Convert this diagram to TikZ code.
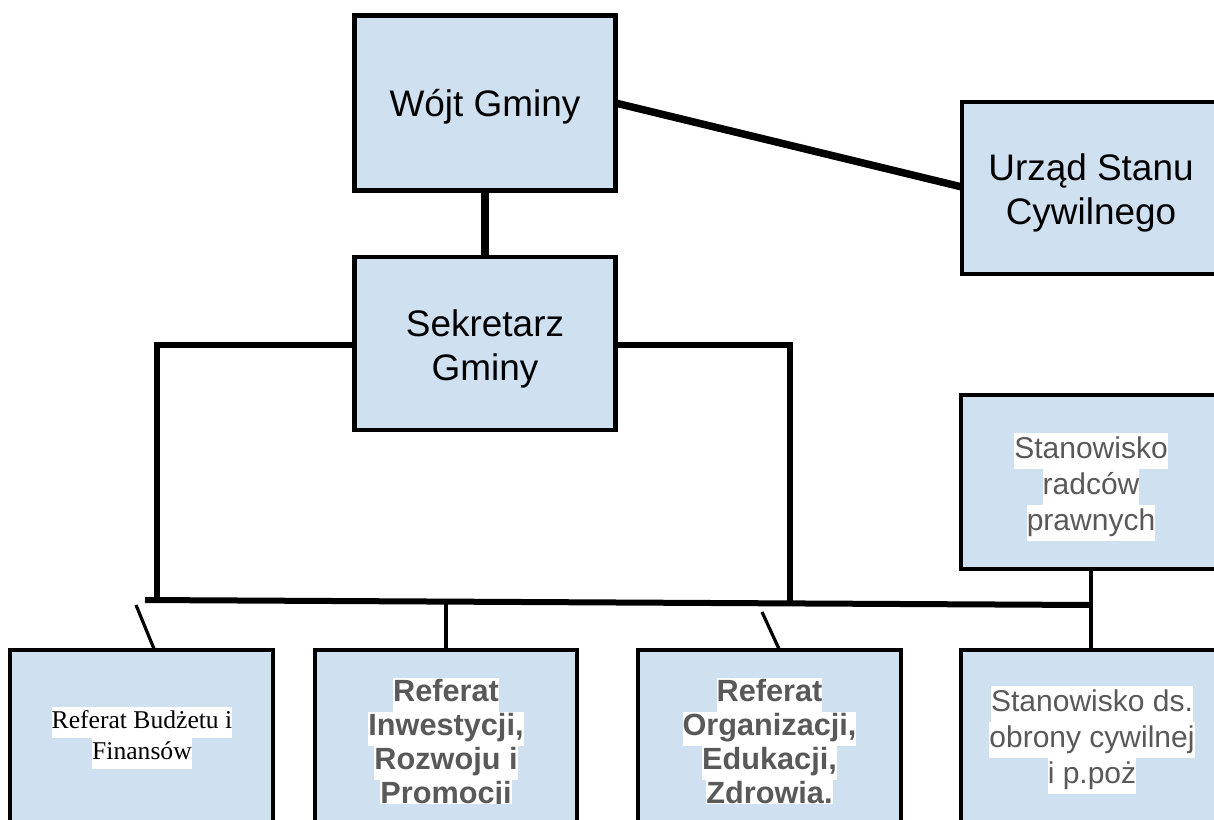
\documentclass[tikz,border=0pt]{standalone}
\usepackage{fontspec}
\usetikzlibrary{calc}
\setmainfont{Liberation Sans}
\newfontfamily\tnr{Liberation Serif}
\definecolor{boxblue}{RGB}{207,224,241}
\definecolor{txtgray}{RGB}{89,89,89}
\newcommand{\hlline}[1]{{\setlength{\fboxsep}{0pt}\colorbox{white}{\strut #1}}}
\tikzset{
  orgbox/.style={draw=black, fill=boxblue, rectangle, inner sep=0pt, outer sep=0pt, align=center},
  bigtxt/.style={font=\fontsize{27.7}{33}\selectfont},
  midtxt/.style={font=\fontsize{22.5}{27}\selectfont, text=txtgray},
  boldtxt/.style={font=\fontsize{23}{25.5}\selectfont\bfseries, text=txtgray},
  sertxt/.style={font=\fontsize{19.2}{23.3}\selectfont\tnr, text=black},
  heavy/.style={line width=5.6pt},
  medium/.style={line width=4.5pt},
  thin/.style={line width=2.4pt}
}
\begin{document}
\begin{tikzpicture}[x=0.75pt,y=-0.75pt]
\useasboundingbox (0,0) rectangle (1214,819);
\clip (0,0) rectangle (1214,819);
% boxes
\node[orgbox, line width=3.9pt, minimum width=195.75pt, minimum height=131.25pt, bigtxt] (wojt) at (485,103) {\rule{0pt}{26pt}Wójt Gminy};
\node[orgbox, line width=3.4pt, minimum width=195.75pt, minimum height=129.75pt, bigtxt] (sek) at (485,343.5) {\rule{0pt}{27.5pt}Sekretarz\\Gminy};
\node[orgbox, line width=3.4pt, minimum width=193.5pt, minimum height=129pt, bigtxt] (usc) at (1091,188) {\rule{0pt}{27.5pt}Urząd Stanu\\Cywilnego};
\node[orgbox, line width=3.4pt, minimum width=195pt, minimum height=130.5pt, midtxt] (rad) at (1091,482) {\rule{0pt}{26.4pt}\hlline{Stanowisko}\\\hlline{radców}\\\hlline{prawnych}};
\node[orgbox, line width=3.4pt, minimum width=197.25pt, minimum height=135pt] (b1) at (141.5,740) {};
\node[orgbox, line width=3.4pt, minimum width=196.5pt, minimum height=135pt] (b2) at (446,740) {};
\node[orgbox, line width=3.4pt, minimum width=197.25pt, minimum height=135pt] (b3) at (769.5,740) {};
\node[orgbox, line width=3.4pt, minimum width=195pt, minimum height=135pt] (b4) at (1091,740) {};
% texts in lower boxes
\node[align=center, sertxt] (t1) at (142,738) {\hlline{Referat Budżetu i}\\\hlline{Finansów}};
\node[align=center, midtxt] (t4) at (1092,740) {\hlline{Stanowisko ds.}\\\hlline{obrony cywilnej}\\\hlline{i p.poż}};
\begin{scope}
\clip (0,0) rectangle (1214,803);
\node[align=center, boldtxt, anchor=north] (t2) at (446,673) {\hlline{Referat}\\\hlline{Inwestycji,}\\\hlline{Rozwoju i}\\\hlline{Promocji}};
\node[align=center, boldtxt, anchor=north] (t3) at (769.5,673) {\hlline{Referat}\\\hlline{Organizacji,}\\\hlline{Edukacji,}\\\hlline{Zdrowia.}};
\end{scope}
% free ends
\coordinate (lbar) at (145,600);
\coordinate (rbar) at (1092,605);
\coordinate (lcorner) at (157,598);
\coordinate (rcorner) at (790,605);
\coordinate (d1) at (136,605);
\coordinate (d3) at (762,612);
\coordinate (m2) at (446,603);
% connectors
\draw[heavy] (wojt.south) -- (sek.north);
\draw[heavy] (wojt.east |- 0,103) -- (usc.west |- 0,187);
\draw[medium] (sek.west |- 0,345) -| (lcorner);
\draw[medium] (sek.east |- 0,345) -| (rcorner);
\draw[medium] (lbar) -- (rbar);
\draw[thin] (rad.south) -- (b4.north);
\draw[thin] (m2) -- (b2.north);
\draw[thin] (d1) -- ($(b1.north)+(13,0)$);
\draw[thin] (d3) -- ($(b3.north)+(10,0)$);
\end{tikzpicture}
\end{document}
